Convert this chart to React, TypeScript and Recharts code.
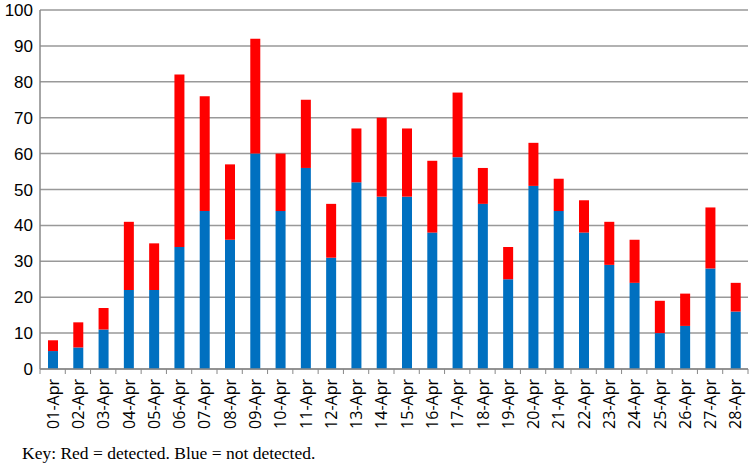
import React from 'react';
import { BarChart, Bar, XAxis, YAxis, CartesianGrid } from 'recharts';

const dates = ['01-Apr','02-Apr','03-Apr','04-Apr','05-Apr','06-Apr','07-Apr','08-Apr','09-Apr','10-Apr','11-Apr','12-Apr','13-Apr','14-Apr','15-Apr','16-Apr','17-Apr','18-Apr','19-Apr','20-Apr','21-Apr','22-Apr','23-Apr','24-Apr','25-Apr','26-Apr','27-Apr','28-Apr'];
const notDetected = [5,6,11,22,22,34,44,36,60,44,56,31,52,48,48,38,59,46,25,51,44,38,29,24,10,12,28,16];
const detected = [3,7,6,19,13,48,32,21,32,16,19,15,15,22,19,20,18,10,9,12,9,9,12,12,9,9,17,8];
const yTicks = [0,10,20,30,40,50,60,70,80,90,100];

const data = dates.map((d, i) => ({ date: d, notDetected: notDetected[i], detected: detected[i] }));

const W = 750;
const H = 440;
const M = { top: 10, right: 2, left: 0, bottom: 0 };
const YW = 40;
const plotW = W - M.left - M.right - YW;
const step = plotW / dates.length;
const TICK_OFFSET = 6 + 4;

const XTick = (props: any) => {
  const { x, y, payload, index } = props;
  const axisY = y - TICK_OFFSET;
  return (
    <g>
      <line x1={x - step / 2} y1={axisY} x2={x - step / 2} y2={axisY + 5} stroke="#888" strokeWidth={1} />
      {index === dates.length - 1 && (
        <line x1={x + step / 2} y1={axisY} x2={x + step / 2} y2={axisY + 5} stroke="#888" strokeWidth={1} />
      )}
      <text
        x={x}
        y={y}
        transform={`rotate(-90, ${x}, ${y})`}
        textAnchor="end"
        dominantBaseline="central"
        fontFamily="'Open Sans', sans-serif"
        fontSize={16}
        fill="#000"
      >
        {payload.value}
      </text>
    </g>
  );
};

export default function App() {
  return (
    <div style={{ position: 'absolute', left: 0, top: 0, width: W, height: 464, background: '#fff' }}>
      <BarChart width={W} height={H} data={data} margin={M}>
        <CartesianGrid vertical={false} stroke="#999" strokeWidth={1.5} />
        <XAxis
          dataKey="date"
          interval={0}
          height={71}
          tickLine={false}
          axisLine={{ stroke: '#888', strokeWidth: 1.5 }}
          tick={<XTick />}
          tickMargin={4}
        />
        <YAxis
          width={YW}
          domain={[0, 100]}
          ticks={yTicks}
          interval={0}
          tickLine={false}
          axisLine={{ stroke: '#888', strokeWidth: 1.5 }}
          tick={{ fill: '#000', fontSize: 17, fontFamily: "'Liberation Sans', Arial, sans-serif" }}
          tickMargin={1}
        />
        <Bar dataKey="notDetected" stackId="a" fill="#0070C0" barSize={10} isAnimationActive={false} />
        <Bar dataKey="detected" stackId="a" fill="#FF0000" barSize={10} isAnimationActive={false} />
      </BarChart>
      <div
        style={{
          position: 'absolute',
          left: 22,
          top: 443,
          lineHeight: '20px',
          fontFamily: "'Liberation Serif', 'Times New Roman', serif",
          fontSize: 17.5,
          color: '#000',
          whiteSpace: 'nowrap',
        }}
      >
        Key: Red = detected. Blue = not detected.
      </div>
    </div>
  );
}
